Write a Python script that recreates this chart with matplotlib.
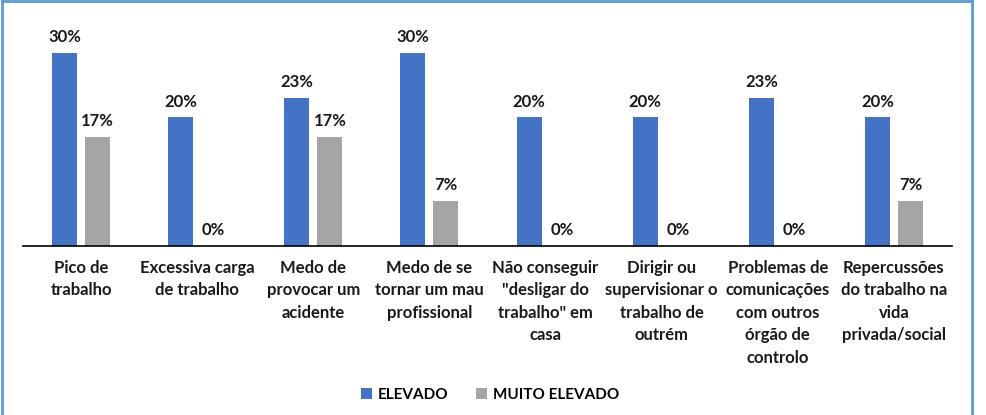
import numpy as np
import matplotlib.pyplot as plt
from matplotlib.lines import Line2D

plt.rcParams['font.family'] = ['Lato', 'DejaVu Sans']

# données
categorias = ["Pico de\ntrabalho", "Excessiva carga\nde trabalho", "Medo de\nprovocar um\nacidente",
              "Medo de se\ntornar um mau\nprofissional", "Não conseguir\n\"desligar do\ntrabalho\" em\ncasa",
              "Dirigir ou\nsupervisionar o\ntrabalho de\noutrém", "Problemas de\ncomunicações\ncom outros\nórgão de\ncontrolo",
              "Repercussões\ndo trabalho na\nvida\nprivada/social"]
elevado = [30, 20, 23, 30, 20, 20, 23, 20]
muito_elevado = [17, 0, 17, 7, 0, 0, 0, 7]

W, H = 987, 415
fig = plt.figure(figsize=(W / 100, H / 100), dpi=100)

# axes : ligne de base à y=246 px, 30% = 193 px
ymax = 34
base = 246
haut = ymax / 30 * 193
ax = fig.add_axes([23 / W, 1 - base / H, (952 - 23) / W, haut / H])

x = np.arange(len(categorias))
larg = 0.216
dx = 0.142
b1 = ax.bar(x - dx, elevado, larg, color="#4472C4", label="ELEVADO")
b2 = ax.bar(x + dx, muito_elevado, larg, color="#A5A5A5", label="MUITO ELEVADO")

for barres, vals in [(b1, elevado), (b2, muito_elevado)]:
    for b, v in zip(barres, vals):
        ax.annotate(f"{v}%", (b.get_x() + b.get_width() / 2, v), xytext=(0, 5.5),
                    textcoords="offset points", ha="center", va="bottom",
                    fontsize=12, fontweight="bold", color="#1a1a1a")

ax.set_xlim(-0.5, len(categorias) - 0.5)
ax.set_ylim(0, ymax)
ax.set_yticks([])
ax.set_xticks(x)
ax.set_xticklabels(categorias, fontsize=12, fontweight="bold", color="#1a1a1a", linespacing=1.5)
ax.tick_params(axis="x", length=0, pad=10)
for s in ["top", "right", "left"]:
    ax.spines[s].set_visible(False)
ax.spines["bottom"].set_color("#000000")
ax.spines["bottom"].set_linewidth(1.2)

fig.legend(handles=[b1, b2], loc="center", bbox_to_anchor=(490 / W, 1 - 395 / H), ncol=2,
           frameon=False, handlelength=0.7, handleheight=0.7, columnspacing=1.8, handletextpad=0.4,
           prop={"weight": "bold", "size": 11})

# cadre bleu
c = "#5B9BD5"
fig.add_artist(Line2D([2 / W, 2 / W], [0, 1 - 1 / H], color=c, lw=2, transform=fig.transFigure))
fig.add_artist(Line2D([2 / W, 972 / W], [1 - 1 / H, 1 - 1 / H], color=c, lw=2, transform=fig.transFigure))
fig.add_artist(Line2D([972 / W, 972 / W], [0, 1 - 1 / H], color=c, lw=2, transform=fig.transFigure))

fig.savefig("out.png", dpi=100)
